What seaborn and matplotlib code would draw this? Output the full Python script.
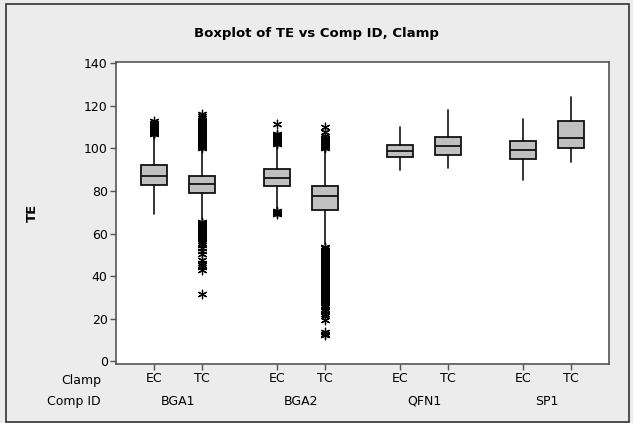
import matplotlib
matplotlib.use("Agg")
import pandas as pd
import matplotlib.pyplot as plt
import seaborn as sns
from matplotlib.patches import Rectangle

# categories
comp_ids = ["BGA1", "BGA2", "QFN1", "SP1"]
clamps = ["EC", "TC"]

# box summaries, order:
# BGA1 EC, BGA1 TC, BGA2 EC, BGA2 TC, QFN1 EC, QFN1 TC, SP1 EC, SP1 TC
whisker_low = [69.2, 67.0, 71.5, 55.0, 89.6, 90.6, 85.0, 93.6]
q1 = [82.8, 78.9, 82.5, 71.2, 95.8, 96.7, 95.2, 100.3]
median = [87.1, 83.1, 86.2, 77.7, 98.8, 100.9, 99.4, 104.9]
q3 = [92.4, 87.1, 90.2, 82.5, 101.7, 105.4, 103.4, 112.6]
whisker_high = [106.0, 99.5, 101.5, 99.0, 110.2, 118.1, 113.6, 124.3]

# outliers (estimated from the dense star columns)
out_bga1_ec = [106.6, 107.0, 107.4, 107.8, 108.2, 108.6, 109.0, 109.4, 109.8,
               110.2, 110.7, 111.3, 112.0, 113.0]
out_bga1_tc = [100.2, 100.6, 101.0, 101.5, 102.0, 102.4, 102.8, 103.3, 103.8,
               104.2, 104.6, 105.1, 105.6, 106.0, 106.4, 106.9, 107.4, 107.8,
               108.2, 108.7, 109.2, 109.6, 110.0, 110.5, 111.0, 111.5, 112.0,
               112.6, 113.2, 114.0, 115.0, 116.3,
               65.5, 65.0, 64.5, 64.0, 63.5, 63.0, 62.5, 62.0, 61.5, 61.0, 60.5,
               60.0, 59.5, 59.0, 58.5, 58.0, 57.3, 56.5, 55.8, 54.5, 53.2, 51.8,
               50.2, 47.6, 46.4, 45.3, 44.2, 43.0, 31.5]
out_bga2_ec = [101.8, 102.3, 102.8, 103.3, 103.8, 104.3, 104.8, 105.3, 105.8,
               106.3, 106.8, 111.2, 69.4, 69.8, 70.2, 70.6]
out_bga2_tc = [100.2, 100.7, 101.2, 101.7, 102.2, 102.7, 103.2, 103.7, 104.2,
               105.0, 106.0, 107.5, 110.2,
               53.6, 53.0, 52.5, 51.9, 51.4, 50.8, 50.3, 49.7, 49.2, 48.6, 48.1,
               47.5, 47.0, 46.4, 45.9, 45.3, 44.8, 44.2, 43.7, 43.1, 42.6, 42.0,
               41.5, 40.9, 40.4, 39.8, 39.3, 38.7, 38.2, 37.6, 37.1, 36.5, 36.0,
               35.4, 34.9, 34.3, 33.8, 33.2, 32.7, 32.1, 31.6, 31.0, 30.5, 29.9,
               29.4, 28.8, 28.3, 27.7, 27.2, 26.6, 26.1, 25.4, 24.6, 23.6, 22.4,
               21.2, 19.6, 13.6, 13.0, 12.6]
outliers = [out_bga1_ec, out_bga1_tc, out_bga2_ec, out_bga2_tc, [], [], [], []]

sns.set_theme(style="ticks")
plt.rcParams['font.family'] = ['DejaVu Sans']
plt.rcParams['text.color'] = 'black'
plt.rcParams['axes.labelcolor'] = 'black'

bg = "#ECECEC"
fig = plt.figure(figsize=(6.33, 4.23), dpi=100, facecolor=bg)
ax = fig.add_axes([116 / 633, 1 - 364 / 423, (609 - 116) / 633, (364 - 62) / 423])
ax.set_facecolor("white")

# x positions: two boxes per component, wider gap between components
gap = 2.5625
labels_clamp = []
positions = []
rows = []
for g, cid in enumerate(comp_ids):
    for c, cl in enumerate(clamps):
        i = g * 2 + c
        x = 1 + g * gap + c
        positions.append(x)
        labels_clamp.append(cl)
        for v in outliers[i]:
            rows.append({"pos": x, "TE": v, "Comp ID": cid, "Clamp": cl})

stats = []
for i in range(len(positions)):
    stats.append({"whislo": whisker_low[i], "q1": q1[i], "med": median[i],
                  "q3": q3[i], "whishi": whisker_high[i], "fliers": []})

ax.bxp(stats, positions=positions, widths=0.54, patch_artist=True,
       showcaps=False, showfliers=False,
       boxprops=dict(facecolor="#C0C0C0", edgecolor="#111111", linewidth=1.3),
       medianprops=dict(color="#111111", linewidth=1.3),
       whiskerprops=dict(color="#111111", linewidth=1.2), zorder=2)

df_out = pd.DataFrame(rows)
sns.scatterplot(data=df_out, x="pos", y="TE", marker=(6, 2, 0), s=38,
                color="black", edgecolor="black", linewidth=0.9, ax=ax,
                zorder=3, legend=False)

ax.set_xlim(1 - 38 / 48, positions[-1] + 38 / 48)
ax.set_ylim(-1.2, 140.5)
ax.set_yticks([0, 20, 40, 60, 80, 100, 120, 140])
ax.set_xticks(positions)
ax.set_xticklabels(labels_clamp)
ax.set_xlabel("")
ax.set_ylabel("TE", fontsize=9.5, fontweight="bold", labelpad=32)

spine_col = "#555555"
for s in ax.spines.values():
    s.set_visible(True)
    s.set_color(spine_col)
    s.set_linewidth(1.2)
ax.tick_params(axis="both", colors=spine_col, labelcolor="black",
               labelsize=9, length=4, width=1.0, pad=2)

# second row of category labels (Comp ID)
for g, cid in enumerate(comp_ids):
    xc = (positions[2 * g] + positions[2 * g + 1]) / 2
    ax.text(xc, 1 - (401 - 62) / (364 - 62), cid, transform=ax.get_xaxis_transform(),
            ha="center", va="center", fontsize=9)
fig.text(101 / 633, 1 - 380 / 423, "Clamp", ha="right", va="center", fontsize=9)
fig.text(101 / 633, 1 - 401 / 423, "Comp ID", ha="right", va="center", fontsize=9)

fig.text(0.5, 1 - 33 / 423, "Boxplot of TE vs Comp ID, Clamp",
         ha="center", va="center", fontsize=9.5, fontweight="bold")

fig.patches.append(Rectangle((6 / 633, 1.5 / 423), 623 / 633, 417.5 / 423,
                             transform=fig.transFigure, fill=False,
                             edgecolor="#333333", linewidth=1.2))

fig.savefig("out.png", dpi=100, facecolor=bg)
